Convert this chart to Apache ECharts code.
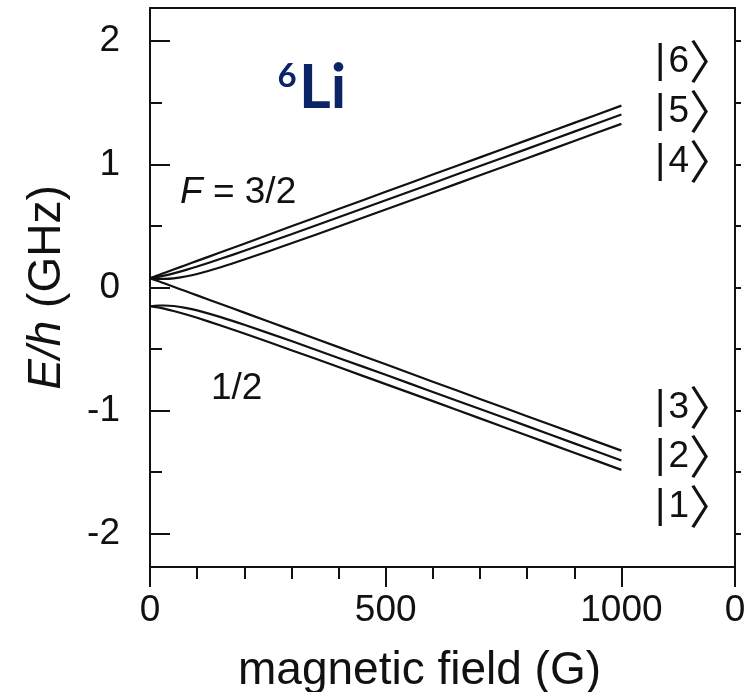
<!DOCTYPE html>
<html>
<head>
<meta charset="utf-8">
<script src="https://cdn.jsdelivr.net/npm/echarts@6/dist/echarts.min.js"></script>
<style>
html,body{margin:0;padding:0;background:#fff;}
#chart{width:747px;height:692px;}
</style>
</head>
<body>
<div id="chart"></div>
<script>
// magnetic field (G)
const fieldG = [0, 10, 20, 30, 50, 75, 100, 150, 200, 300, 400, 500, 600, 700, 800, 900, 1000];
// E/h (GHz) of the six hyperfine states
const state6 = [0.076, 0.090, 0.104, 0.118, 0.146, 0.181, 0.216, 0.286, 0.356, 0.497, 0.637, 0.777, 0.917, 1.057, 1.197, 1.337, 1.477];
const state5 = [0.076, 0.082, 0.088, 0.096, 0.115, 0.141, 0.170, 0.233, 0.298, 0.433, 0.570, 0.708, 0.847, 0.987, 1.126, 1.266, 1.405];
const state4 = [0.076, 0.072, 0.070, 0.070, 0.074, 0.089, 0.110, 0.165, 0.227, 0.359, 0.495, 0.633, 0.772, 0.911, 1.050, 1.190, 1.329];
const state3 = [0.076, 0.062, 0.048, 0.034, 0.006, -0.029, -0.064, -0.134, -0.204, -0.344, -0.484, -0.624, -0.765, -0.905, -1.045, -1.185, -1.325];
const state2 = [-0.152, -0.148, -0.146, -0.146, -0.150, -0.165, -0.186, -0.241, -0.303, -0.435, -0.572, -0.709, -0.848, -0.987, -1.126, -1.266, -1.405];
const state1 = [-0.152, -0.158, -0.164, -0.172, -0.191, -0.217, -0.246, -0.309, -0.374, -0.509, -0.646, -0.785, -0.923, -1.063, -1.202, -1.342, -1.481];

// axis ticks
const xMajorTicks = [0, 500, 1000];
const xMinorTicks = [100, 200, 300, 400, 600, 700, 800, 900];
const yMajorTicks = [-2, -1, 0, 1, 2];
const yMinorTicks = [-1.5, -0.5, 0.5, 1.5];
const X_MIN = 0, X_MAX = 1241;   // panel edge (next panel starts at its own "0")
const Y_MIN = -2.27, Y_MAX = 2.27;

// labels
const ketNumbers = ['6', '5', '4', '3', '2', '1'];

const seriesList = [state1, state2, state3, state4, state5, state6];

const FONT = '"Liberation Sans", Arial, Helvetica, sans-serif';
const INK = '#111';

const chart = echarts.init(document.getElementById('chart'), null, {renderer: 'canvas'});

const ketY = [62, 112, 162, 408, 457, 507];

const option = {
  animation: false,
  backgroundColor: '#fff',
  grid: {left: 150, top: 8, right: 12, bottom: 125, containLabel: false, outerBoundsMode: 'none', show: false},
  xAxis: [
    {
      type: 'value', min: X_MIN, max: X_MAX, position: 'bottom',
      name: 'magnetic field (G)', nameLocation: 'middle', nameGap: 81,
      nameTextStyle: {fontFamily: FONT, fontSize: 46, color: INK, padding: [0, 46, 0, 0]},
      axisLine: {show: true, onZero: false, lineStyle: {color: INK, width: 2}},
      axisTick: {show: true, inside: false, length: 20, customValues: xMajorTicks.concat([X_MAX]), lineStyle: {color: INK, width: 2}},
      axisLabel: {show: true, customValues: xMajorTicks.concat([X_MAX]), margin: 25, fontFamily: FONT, fontSize: 37, color: INK,
        formatter: v => (v === X_MAX ? '0' : String(v))},
      splitLine: {show: false}
    },
    {
      type: 'value', min: X_MIN, max: X_MAX, position: 'bottom',
      axisLine: {show: false, onZero: false},
      axisTick: {show: true, inside: false, length: 12, customValues: xMinorTicks, lineStyle: {color: INK, width: 2}},
      axisLabel: {show: false},
      splitLine: {show: false}
    },
    {
      type: 'value', min: X_MIN, max: X_MAX, position: 'top',
      axisLine: {show: true, onZero: false, lineStyle: {color: INK, width: 2}},
      axisTick: {show: false}, axisLabel: {show: false}, splitLine: {show: false}
    }
  ],
  yAxis: [
    {
      type: 'value', min: Y_MIN, max: Y_MAX, position: 'left',
      name: '{i|E/h} (GHz)', nameLocation: 'middle', nameGap: 80, nameRotate: 90,
      nameTextStyle: {fontFamily: FONT, fontSize: 46, color: INK,
        rich: {i: {fontFamily: FONT, fontSize: 46, fontStyle: 'italic', color: INK}}},
      axisLine: {show: true, onZero: false, lineStyle: {color: INK, width: 2}},
      axisTick: {show: true, inside: true, length: 20, customValues: yMajorTicks, lineStyle: {color: INK, width: 2}},
      axisLabel: {show: true, customValues: yMajorTicks, margin: 30, fontFamily: FONT, fontSize: 37, color: INK},
      splitLine: {show: false}
    },
    {
      type: 'value', min: Y_MIN, max: Y_MAX, position: 'left',
      axisLine: {show: false, onZero: false},
      axisTick: {show: true, inside: true, length: 12, customValues: yMinorTicks, lineStyle: {color: INK, width: 2}},
      axisLabel: {show: false}, splitLine: {show: false}
    },
    {
      type: 'value', min: Y_MIN, max: Y_MAX, position: 'right',
      axisLine: {show: true, onZero: false, lineStyle: {color: INK, width: 2}},
      axisTick: {show: true, inside: false, length: 6, customValues: yMajorTicks.concat(yMinorTicks), lineStyle: {color: INK, width: 2}},
      axisLabel: {show: false}, splitLine: {show: false}
    }
  ],
  series: seriesList.map((vals, i) => ({
    type: 'line',
    name: 'state ' + (i + 1),
    xAxisIndex: 0, yAxisIndex: 0,
    data: fieldG.map((b, j) => [b, vals[j]]),
    showSymbol: false,
    smooth: 0.3,
    lineStyle: {color: INK, width: 2.2},
    z: 3
  })),
  graphic: [
    {type: 'text', x: 287, y: 76, style: {text: '6', font: 'bold 33px Lato, "Open Sans", sans-serif', fill: '#0a2466', textAlign: 'center', textVerticalAlign: 'middle'}},
    {type: 'text', x: 299, y: 88, style: {text: 'Li', font: 'bold 61px Lato, "Open Sans", sans-serif', fill: '#0a2466', textAlign: 'left', textVerticalAlign: 'middle'}},
    {type: 'text', x: 180, y: 193, style: {text: '{i|F} = 3/2', rich: {i: {fontStyle: 'italic', fontFamily: FONT, fontSize: 37, fill: INK}}, font: '37px ' + FONT, fill: INK, textAlign: 'left', textVerticalAlign: 'middle'}},
    {type: 'text', x: 211, y: 389, style: {text: '1/2', font: '37px ' + FONT, fill: INK, textAlign: 'left', textVerticalAlign: 'middle'}}
  ].concat(ketNumbers.map((n, i) => ({
    type: 'text', x: 655, y: ketY[i],
    style: {
      text: '{bar||}{num|' + n + '}{br|\u3009}',
      textAlign: 'left', textVerticalAlign: 'middle',
      rich: {
        bar: {fontFamily: FONT, fontSize: 40, fill: INK, verticalAlign: 'middle', padding: [0, 3, 0, 0]},
        num: {fontFamily: FONT, fontSize: 37, fill: INK, verticalAlign: 'middle'},
        br: {fontFamily: '"Noto Sans CJK JP"', fontSize: 46, fill: INK, verticalAlign: 'middle', padding: [0, 0, 2, 0]}
      }
    }
  })))
};

chart.setOption(option);
</script>
</body>
</html>
